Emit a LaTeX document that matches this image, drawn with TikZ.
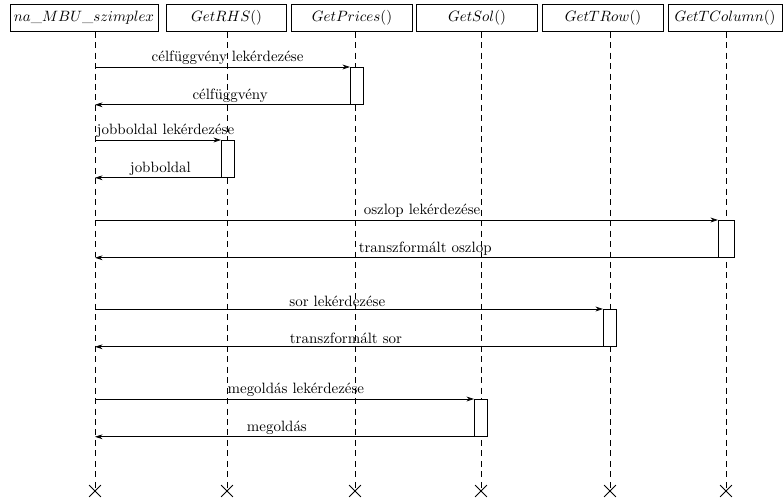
\documentclass[tikz,border=0pt]{standalone}
\usetikzlibrary{arrows.meta,positioning,shapes.misc}
\tikzset{
  >={Stealth[length=5pt,width=3.2pt,inset=1.6pt]},
  obj/.style={draw, line width=0.6pt, minimum width=2.84cm, minimum height=0.62cm,
              inner sep=2pt, font=\normalsize},
  life/.style={dash pattern=on 4pt off 3pt, line width=0.4pt},
  act/.style={draw, fill=white, anchor=north west, minimum width=0.3cm,
              minimum height=0.87cm, inner sep=0pt, line width=0.5pt},
  msg/.style={->, line width=0.5pt},
  lbl/.style={above, inner sep=1.5pt, font=\normalsize},
  stopx/.style={draw, cross out, minimum size=0.26cm, inner sep=0pt, line width=0.5pt},
}
\begin{document}
\begin{tikzpicture}[x=0.0235cm,y=-0.0235cm]
  \useasboundingbox (0,0) rectangle (783,497);
  % objects
  \node[obj,minimum width=3.48cm] (mbu) at (84,18) {$na\_MBU\_szimplex$};
  \node[obj] (rhs) at (226.5,18) {$GetRHS()$};
  \node[obj] (prices) at (352,18) {$GetPrices()$};
  \node[obj] (sol) at (477,18) {$GetSol()$};
  \node[obj] (trow) at (603,18) {$GetTRow()$};
  \node[obj,minimum width=2.68cm] (tcol) at (725,18) {$GetTColumn()$};

  % lifeline ends
  \node[stopx] (e1) at (95,491) {};
  \node[stopx] (e2) at (227,491) {};
  \node[stopx] (e3) at (355,491) {};
  \node[stopx] (e4) at (481,491) {};
  \node[stopx] (e5) at (610,491) {};
  \node[stopx] (e6) at (726,491) {};

  % lifelines
  \draw[life] (mbu.south -| e1) -- (e1.center);
  \draw[life] (rhs.south -| e2) -- (e2.center);
  \draw[life] (prices.south -| e3) -- (e3.center);
  \draw[life] (sol.south -| e4) -- (e4.center);
  \draw[life] (trow.south -| e5) -- (e5.center);
  \draw[life] (tcol.south -| e6) -- (e6.center);

  % activations
  \node[act] (a1) at (350,67) {};
  \node[act] (a2) at (221,140) {};
  \node[act,minimum width=0.37cm] (a3) at (718,220) {};
  \node[act] (a4) at (603,309) {};
  \node[act] (a5) at (474,399) {};

  % messages
  \draw[msg] (a1.north west -| e1) -- node[lbl,pos=.52] {célfüggvény lekérdezése} (a1.north west);
  \draw[msg] (a1.south west) -- node[lbl,pos=.47] {célfüggvény} (a1.south west -| e1);
  \draw[msg] (a2.north west -| e1) -- node[lbl,pos=.56] {jobboldal lekérdezése} (a2.north west);
  \draw[msg] (a2.south west) -- node[lbl,pos=.48] {jobboldal} (a2.south west -| e1);
  \draw[msg] (a3.north west -| e1) -- node[lbl,pos=.525] {oszlop lekérdezése} (a3.north west);
  \draw[msg] (a3.south west) -- node[lbl,pos=.47] {transzformált oszlop} (a3.south west -| e1);
  \draw[msg] (a4.north west -| e1) -- node[lbl,pos=.477] {sor lekérdezése} (a4.north west);
  \draw[msg] (a4.south west) -- node[lbl,pos=.506] {transzformált sor} (a4.south west -| e1);
  \draw[msg] (a5.north west -| e1) -- node[lbl,pos=.53] {megoldás lekérdezése} (a5.north west);
  \draw[msg] (a5.south west) -- node[lbl,pos=.52] {megoldás} (a5.south west -| e1);
\end{tikzpicture}
\end{document}
